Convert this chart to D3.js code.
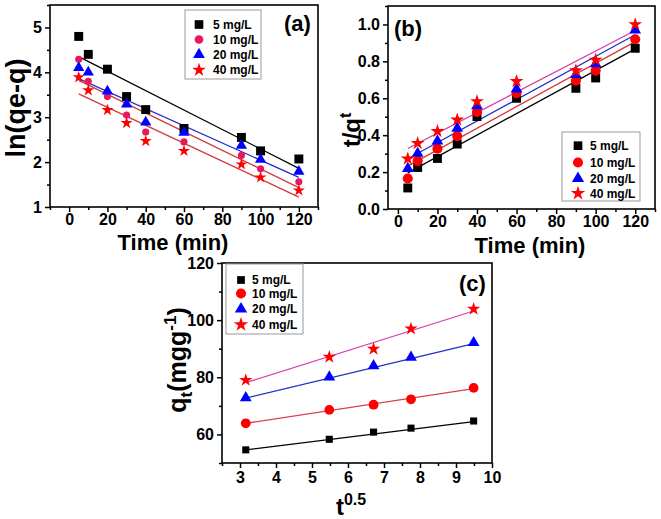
<!DOCTYPE html>
<html><head><meta charset="utf-8">
<script src="https://cdn.jsdelivr.net/npm/d3@7"></script>
<style>
body{margin:0;background:#fff;}
svg{display:block;font-family:"Liberation Sans",Arial,sans-serif;font-weight:bold;}
</style>
</head><body>
<svg id="chart" width="661" height="519"></svg>
<script>
// ---------- data ----------
const seriesNames = ["5 mg/L", "10 mg/L", "20 mg/L", "40 mg/L"];

// panel (a): ln(qe-q) vs time
const timeMin = [5, 10, 20, 30, 40, 60, 90, 100, 120];
const lnA5  = [4.80, 4.40, 4.07, 3.46, 3.17, 2.75, 2.55, 2.25, 2.07];
const lnA10 = [4.29, 3.80, 3.46, 3.05, 2.67, 2.45, 2.15, 1.85, 1.56];
const lnA20 = [4.10, 4.00, 3.58, 3.29, 2.89, 2.66, 2.37, 2.06, 1.79];
const lnA40 = [3.89, 3.60, 3.16, 2.87, 2.47, 2.25, 1.95, 1.66, 1.37];
const fitTime = [5, 120];
const fitA5  = [4.35, 1.86];
const fitA10 = [3.82, 1.43];
const fitA20 = [3.86, 1.66];
const fitA40 = [3.52, 1.22];

// panel (b): t/qt vs time
const tqB5  = [0.114, 0.225, 0.274, 0.352, 0.501, 0.600, 0.654, 0.710, 0.871];
const tqB10 = [0.165, 0.261, 0.327, 0.395, 0.526, 0.628, 0.695, 0.750, 0.920];
const tqB20 = [0.219, 0.301, 0.368, 0.437, 0.559, 0.650, 0.728, 0.786, 0.970];
const tqB40 = [0.272, 0.356, 0.421, 0.483, 0.583, 0.692, 0.750, 0.808, 1.000];
const fitB5  = [0.196, 0.868];
const fitB10 = [0.232, 0.907];
const fitB20 = [0.272, 0.944];
const fitB40 = [0.328, 0.967];

// panel (c): qt vs t^0.5
const sqrtT = [3.16, 5.48, 6.71, 7.75, 9.49];
const qtC5  = [54.6, 58.3, 60.8, 62.2, 64.7];
const qtC10 = [63.9, 68.6, 70.4, 72.3, 76.3];
const qtC20 = [72.8, 80.1, 84.0, 87.0, 92.1];
const qtC40 = [79.0, 87.1, 89.9, 97.0, 103.9];
const fitSqrt = [3.16, 9.49];
const fitC5  = [54.6, 64.5];
const fitC10 = [63.9, 76.0];
const fitC20 = [72.7, 91.8];
const fitC40 = [78.1, 103.2];

// tick values
const ticksAx = [0, 20, 40, 60, 80, 100, 120];
const minorAx = [-10, 10, 30, 50, 70, 90, 110, 130];
const ticksAy = [1, 2, 3, 4, 5];
const minorAy = [1.5, 2.5, 3.5, 4.5, 5.5];
const ticksBx = [0, 20, 40, 60, 80, 100, 120];
const minorBx = [10, 30, 50, 70, 90, 110, 130];
const ticksBy = [0, 0.2, 0.4, 0.6, 0.8, 1.0];
const minorBy = [0.1, 0.3, 0.5, 0.7, 0.9, 1.1];
const ticksCx = [3, 4, 5, 6, 7, 8, 9, 10];
const minorCx = [2.5, 3.5, 4.5, 5.5, 6.5, 7.5, 8.5, 9.5];
const ticksCy = [60, 80, 100, 120];
const minorCy = [50, 70, 90, 110];

// ---------- drawing ----------
const svg = d3.select("#chart");
const markerShapes = [d3.symbolSquare, d3.symbolCircle, d3.symbolTriangle, d3.symbolStar];

function drawPanel(cfg) {
  const x = d3.scaleLinear().domain(cfg.xDomain).range([cfg.left, cfg.right]);
  const y = d3.scaleLinear().domain(cfg.yDomain).range([cfg.bottom, cfg.top]);
  const g = svg.append("g");

  // fit lines
  cfg.fits.forEach((f, i) => {
    const pts = cfg.fitX.map((v, k) => [x(v), y(f[k])]);
    g.append("path").attr("d", d3.line()(pts))
      .attr("fill", "none").attr("stroke", cfg.lineColors[i]).attr("stroke-width", 1.3);
  });
  // markers
  cfg.series.forEach((s, i) => {
    const sym = d3.symbol().type(markerShapes[i]).size(cfg.sizes[i]);
    g.selectAll(null).data(s).enter().append("path")
      .attr("d", sym)
      .attr("transform", (d, k) => `translate(${x(cfg.xs[k])},${y(d)})`)
      .attr("fill", cfg.markColors[i]);
  });

  // axes
  const xAxis = d3.axisBottom(x).tickValues(cfg.xTicks).tickSize(5).tickPadding(cfg.xPad).tickFormat(cfg.xFmt || d3.format("d"));
  const xMinor = d3.axisBottom(x).tickValues(cfg.xMinor).tickSize(3).tickFormat("");
  const yAxis = d3.axisLeft(y).tickValues(cfg.yTicks).tickSize(5).tickPadding(3).tickFormat(cfg.yFmt || d3.format("d"));
  const yMinor = d3.axisLeft(y).tickValues(cfg.yMinor).tickSize(3).tickFormat("");

  [[xAxis, `translate(0,${cfg.bottom})`], [xMinor, `translate(0,${cfg.bottom})`],
   [yAxis, `translate(${cfg.left},0)`], [yMinor, `translate(${cfg.left},0)`]].forEach(([ax, tr]) => {
    const a = g.append("g").attr("transform", tr).call(ax);
    a.select(".domain").remove();
    a.selectAll("line").attr("stroke", "#000").attr("stroke-width", 1.5);
    a.selectAll("text").attr("font-size", 16).attr("font-weight", "bold")
      .attr("font-family", '"Liberation Sans",Arial,sans-serif').attr("fill", "#000");
  });

  // frame
  g.append("rect").attr("x", cfg.left).attr("y", cfg.top)
    .attr("width", cfg.right - cfg.left).attr("height", cfg.bottom - cfg.top)
    .attr("fill", "none").attr("stroke", "#000").attr("stroke-width", 1.6);

  // legend
  const L = cfg.legend;
  g.append("rect").attr("x", L.x).attr("y", L.y).attr("width", L.w).attr("height", L.h)
    .attr("fill", "#fff").attr("stroke", "#999").attr("stroke-width", 1);
  seriesNames.forEach((name, i) => {
    const cy = L.rows[i];
    g.append("path").attr("d", d3.symbol().type(markerShapes[i]).size(L.sizes[i])())
      .attr("transform", `translate(${L.mx},${cy})`).attr("fill", L.colors[i]);
    g.append("text").attr("x", L.tx).attr("y", cy + L.fs * 0.36).attr("font-size", L.fs)
      .text(name);
  });

  // panel label
  g.append("text").attr("x", cfg.tag[0]).attr("y", cfg.tag[1]).attr("font-size", 22).text(cfg.tag[2]);
  return g;
}

// (a)
const gA = drawPanel({
  left: 50, right: 318, top: 5, bottom: 207, xPad: 2,
  xDomain: [-10, 130], yDomain: [1, 5.5],
  xTicks: ticksAx, xMinor: minorAx, yTicks: ticksAy, yMinor: minorAy,
  xs: timeMin, series: [lnA5, lnA10, lnA20, lnA40],
  fitX: fitTime, fits: [fitA5, fitA10, fitA20, fitA40],
  lineColors: ["#000000", "#d23a3a", "#1f2fc8", "#d23a3a"],
  markColors: ["#000000", "#e8185e", "#0000ff", "#ff0000"],
  sizes: [80, 40, 55, 45],
  legend: {x: 185, y: 10, w: 76, h: 69, rows: [24.5, 39.5, 54.5, 70], mx: 199, tx: 213, fs: 12,
    sizes: [75, 60, 60, 60], colors: ["#000000", "#e8185e", "#0000ff", "#ff0000"]},
  tag: [284, 31, "(a)"]
});
gA.append("text").attr("x", 173).attr("y", 250).attr("text-anchor", "middle").attr("font-size", 22).text("Time (min)");
gA.append("text").attr("transform", "translate(25,108) rotate(-90)").attr("text-anchor", "middle").attr("font-size", 27).text("ln(qe-q)");

// (b)
const gB = drawPanel({
  left: 388, right: 655, top: 6, bottom: 209, xPad: 2,
  xDomain: [-5, 130], yDomain: [0, 1.1],
  xTicks: ticksBx, xMinor: minorBx, yTicks: ticksBy, yMinor: minorBy, yFmt: d3.format(".1f"),
  xs: timeMin, series: [tqB5, tqB10, tqB20, tqB40],
  fitX: fitTime, fits: [fitB5, fitB10, fitB20, fitB40],
  lineColors: ["#000000", "#d23a3a", "#1f2fc8", "#d63fa8"],
  markColors: ["#000000", "#ff0000", "#0000ff", "#ff0000"],
  sizes: [80, 80, 60, 60],
  legend: {x: 562, y: 132, w: 78, h: 69, rows: [145.7, 162.5, 178.5, 193.3], mx: 578, tx: 590, fs: 12,
    sizes: [75, 80, 65, 65], colors: ["#000000", "#ff0000", "#0000ff", "#ff0000"]},
  tag: [394, 36, "(b)"]
});
gB.append("text").attr("x", 530).attr("y", 253).attr("text-anchor", "middle").attr("font-size", 22).text("Time (min)");
const tB = gB.append("text").attr("transform", "translate(360,130) rotate(-90)").attr("text-anchor", "middle").attr("font-size", 24);
tB.append("tspan").text("t/q");
tB.append("tspan").attr("dy", -9).attr("font-size", 16).text("t");

// (c)
const gC = drawPanel({
  left: 222, right: 492, top: 263, bottom: 463, xPad: 4,
  xDomain: [2.5, 10], yDomain: [50, 120],
  xTicks: ticksCx, xMinor: minorCx, yTicks: ticksCy, yMinor: minorCy,
  xs: sqrtT, series: [qtC5, qtC10, qtC20, qtC40],
  fitX: fitSqrt, fits: [fitC5, fitC10, fitC20, fitC40],
  lineColors: ["#000000", "#d8404f", "#1f2fc8", "#d63fb0"],
  markColors: ["#000000", "#ff0000", "#0000ff", "#ff0000"],
  sizes: [50, 75, 60, 55],
  legend: {x: 226, y: 264, w: 77, h: 70, rows: [280, 293.5, 309, 324.5], mx: 241, tx: 252, fs: 12,
    sizes: [60, 80, 65, 65], colors: ["#000000", "#ff0000", "#0000ff", "#ff0000"]},
  tag: [459, 291, "(c)"]
});
const tC = gC.append("text").attr("x", 351).attr("y", 515).attr("text-anchor", "middle").attr("font-size", 24);
tC.append("tspan").text("t");
tC.append("tspan").attr("dy", -10).attr("font-size", 16).text("0.5");
const qC = gC.append("text").attr("transform", "translate(186,360) rotate(-90)").attr("text-anchor", "middle").attr("font-size", 25);
qC.append("tspan").text("q");
qC.append("tspan").attr("dy", 6).attr("font-size", 17).text("t");
qC.append("tspan").attr("dy", -6).text("(mgg");
qC.append("tspan").attr("dy", -10).attr("font-size", 17).text("-1");
qC.append("tspan").attr("dy", 10).text(")");
</script>
</body></html>
